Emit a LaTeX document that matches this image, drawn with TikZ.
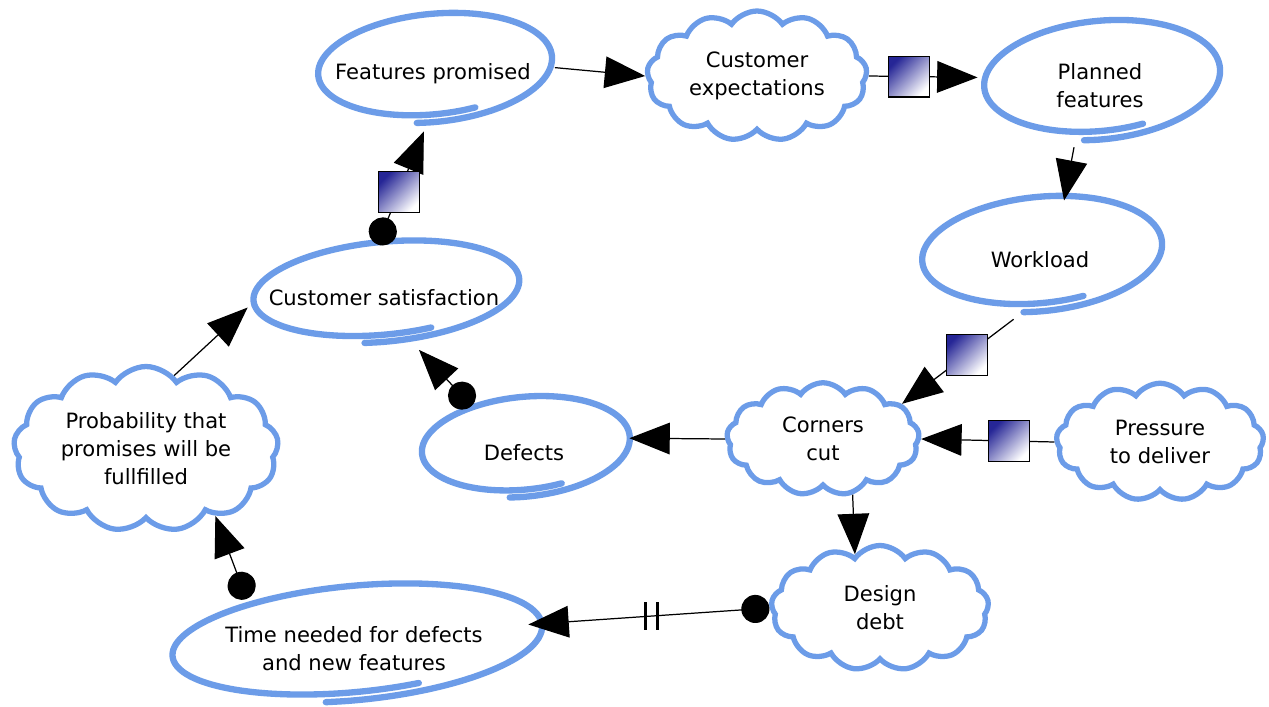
\documentclass[tikz,border=0pt]{standalone}
\usepackage{fontspec}
\setmainfont{DejaVu Sans}
\usetikzlibrary{shapes.geometric,shapes.symbols,arrows.meta,calc}

\definecolor{penblue}{RGB}{108,156,232}
\definecolor{gaugeblue}{RGB}{38,38,150}

% hand drawn ring round a named node: node, x radius, y radius
\newcommand{\penloop}[3]{%
  \begin{scope}[shift={($(#1.center)+(0,-8)$)}, rotate=5]
    \draw[penstroke] plot[smooth, variable=\t, domain=-100:290, samples=64]
      ({#2*(1.04-0.000205*(\t+100))*cos(\t)}, {-#3*(1.08-0.00041*(\t+100))*sin(\t)});
  \end{scope}}

\tikzset{
  every node/.style={font=\fontsize{12}{16}\selectfont, align=center, outer sep=1.5pt},
  ring/.style={ellipse, inner sep=0pt, label={center:#1}},
  puff/.style={cloud, cloud puffs=13, cloud puff arc=110, cloud ignores aspect,
    draw=penblue, line width=3pt, inner sep=0pt},
  penstroke/.style={penblue, line width=3.6pt, line cap=round},
  link/.style={line width=0.7pt, -{Triangle[length=23pt,width=18pt]}},
  dotlink/.style={line width=0.7pt, {Circle[length=16pt]}-{Triangle[length=23pt,width=18pt]}},
  gauge/.style={draw, line width=0.6pt, minimum size=0.82cm, inner sep=0pt,
    top color=gaugeblue, bottom color=white, shading angle=45},
  delaybar/.style={line width=2pt},
}

\begin{document}
\begin{tikzpicture}[x=0.02cm, y=-0.02cm]
  \fill[white] (0,0) rectangle (1269,704);

  % variables
  \node[ring={Features promised}, minimum width=4.8cm, minimum height=2.2cm] (fp) at (433,74) {};
  \node[puff, minimum width=4.4cm, minimum height=2.6cm] (ce) at (757,76) {Customer\\expectations};
  \node[ring={Planned\\features}, minimum width=4.84cm, minimum height=2.4cm] (pf) at (1100,86) {};
  \node[ring={Workload}, minimum width=4.92cm, minimum height=2.32cm] (wl) at (1040,260) {};
  \node[ring={Customer satisfaction}, minimum width=5.44cm, minimum height=2.04cm] (cs) at (384,298) {};
  \node[puff, minimum width=5.3cm, minimum height=3.3cm] (pr) at (146,449) {Probability that\\promises will be\\fullfilled};
  \node[ring={Defects}, minimum width=4.28cm, minimum height=2.04cm] (df) at (524,453) {};
  \node[puff, minimum width=3.85cm, minimum height=2.25cm] (cc) at (823,439) {Corners\\cut};
  \node[puff, minimum width=4.15cm, minimum height=2.35cm] (pd) at (1160,442) {Pressure\\to deliver};
  \node[puff, minimum width=4.35cm, minimum height=2.5cm] (dd) at (880,608) {Design\\debt};
  \node[ring={Time needed for defects\\and new features}, minimum width=7.52cm, minimum height=2.32cm] (tn) at (354,649) {};

  \foreach \n/\rx/\ry in {fp/117/52, pf/118/57, wl/120/55, cs/133/48, df/104/48, tn/185/55}
    {\penloop{\n}{\rx}{\ry}}

  % links
  \draw[link] (fp.3) -- (ce.west);
  \draw[link] (ce.east) -- node[gauge, pos=0.37]{} (pf.176);
  \draw[link] (pf.-113) -- (wl.68);
  \draw[link] (wl.-114) -- node[gauge, pos=0.42]{} (cc.24);
  \draw[link] (pd.west) -- node[gauge, pos=0.34]{} (cc.east);
  \draw[link] (cc.west) -- (df.8);
  \draw[link] (cc.-62) -- (dd.115);
  \draw[dotlink] (dd.180) -- coordinate[pos=0.49] (lag) (tn.8);
  \draw[delaybar] ($(lag)+(-6,-14)$) -- ($(lag)+(-6,14)$);
  \draw[delaybar] ($(lag)+(6,-14)$) -- ($(lag)+(6,14)$);
  \draw[dotlink] (tn.155) -- (pr.-44);
  \draw[link] (pr.69) -- (cs.-176);
  \draw[dotlink] (df.138) -- (cs.-56);
  \draw[dotlink] (cs.97) -- node[gauge, pos=0.46]{} (fp.-99);
\end{tikzpicture}
\end{document}
